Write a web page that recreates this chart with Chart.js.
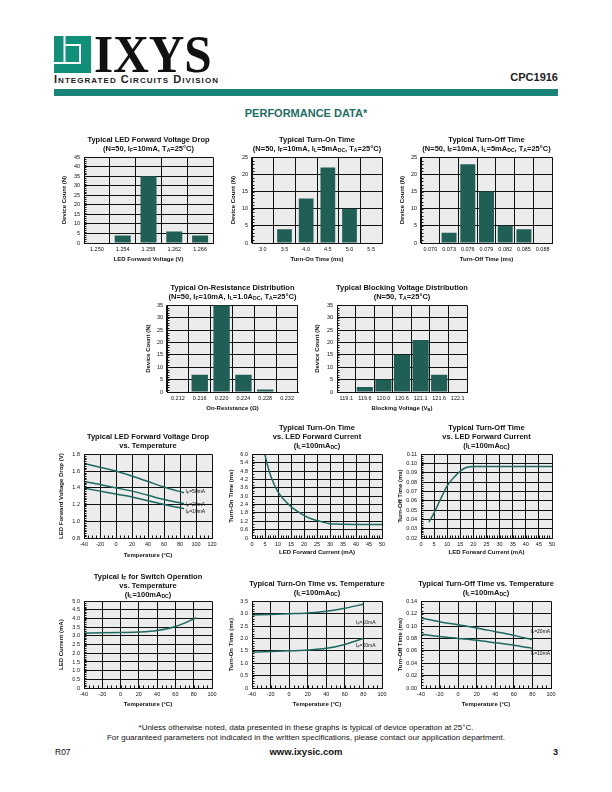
<!DOCTYPE html>
<html><head><meta charset="utf-8">
<script src="https://cdn.jsdelivr.net/npm/chart.js@4.4.1/dist/chart.umd.min.js"></script>
<style>
body{margin:0;width:612px;height:792px;position:relative;background:#fff;font-family:"Liberation Sans",Arial,sans-serif;overflow:hidden;color:#111}
.abs{position:absolute;white-space:nowrap}
.ttl{position:absolute;font-weight:bold;font-size:7.5px;line-height:9px;text-align:center;white-space:nowrap;color:#111;transform:translateX(-50%)}
sub{font-size:0.68em;vertical-align:-0.2em;line-height:0}
canvas{position:absolute}
</style></head><body>

<svg class="abs" style="left:54px;top:36px" width="37" height="37" viewBox="0 0 37 37">
 <rect x="0" y="0" width="37" height="37" fill="#119079"/>
 <rect x="9.5" y="0" width="2" height="27" fill="#fff"/>
 <rect x="0" y="26" width="27" height="2" fill="#fff"/>
 <rect x="25" y="8" width="2" height="20" fill="#fff"/>
 <rect x="11.5" y="8" width="15" height="2" fill="#fff"/>
</svg>
<div class="abs" style="left:94px;top:27.5px;font-family:'Liberation Serif','Times New Roman',serif;font-weight:bold;font-size:53px;line-height:53px;transform:scaleX(0.93);transform-origin:left top;color:#111">IXYS</div>
<div class="abs" style="left:54px;top:72.5px;font-weight:bold;font-size:11px;line-height:12px;letter-spacing:1.05px;font-variant:small-caps;color:#222">Integrated Circuits Division</div>
<div class="abs" style="right:54px;top:69.5px;font-weight:bold;font-size:11px;line-height:14px;color:#222">CPC1916</div>
<div class="abs" style="left:54px;top:89px;width:504px;height:7px;background:#1a8478"></div>
<div class="abs" style="left:0;width:612px;top:106px;text-align:center;font-weight:bold;font-size:11px;line-height:14px;color:#1f6e63">PERFORMANCE DATA*</div>

<canvas id="c1"></canvas><canvas id="c2"></canvas><canvas id="c3"></canvas>
<canvas id="c4"></canvas><canvas id="c5"></canvas>
<canvas id="c6"></canvas><canvas id="c7"></canvas><canvas id="c8"></canvas>
<canvas id="c9"></canvas><canvas id="c10"></canvas><canvas id="c11"></canvas>

<div class="abs" style="left:0;width:612px;top:723px;text-align:center;font-size:8px;line-height:10px;color:#111">*Unless otherwise noted, data presented in these graphs is typical of device operation at 25°C.</div>
<div class="abs" style="left:0;width:612px;top:733px;text-align:center;font-size:8px;line-height:10px;color:#111">For guaranteed parameters not indicated in the written specifications, please contact our application department.</div>
<div class="abs" style="left:55px;top:746px;font-size:8.5px;line-height:12px">R07</div>
<div class="abs" style="left:0;width:612px;top:746px;text-align:center;font-weight:bold;font-size:9.5px;line-height:12px">www.ixysic.com</div>
<div class="abs" style="right:54px;top:746px;font-weight:bold;font-size:9px;line-height:12px">3</div>

<script>
// ---------------- DATA ----------------
const C1_cats = ['1.250','1.254','1.258','1.262','1.266'];
const C1_counts = [0,4,35,6,4];
const C2_cats = ['3.0','3.5','4.0','4.5','5.0','5.5'];
const C2_counts = [0,4,13,22,10,0];
const C3_cats = ['0.070','0.073','0.076','0.079','0.082','0.085','0.088'];
const C3_counts = [0,3,23,15,5,4,0];
const C4_cats = ['0.212','0.216','0.220','0.224','0.228','0.232'];
const C4_counts = [0,7,35,7,1,0];
const C5_cats = ['119.1','119.6','120.0','120.6','121.1','121.6','122.1'];
const C5_counts = [0,2,5,15,21,7,0];

const C6_temp = [-40,-20,0,20,40,60,85];
const C6_if50 = [1.69,1.645,1.60,1.54,1.475,1.41,1.34];
const C6_if20 = [1.475,1.44,1.40,1.36,1.31,1.26,1.21];
const C6_if10 = [1.395,1.36,1.325,1.29,1.245,1.20,1.15];

const C7_if = [5,6,7.5,10,12.5,15,17.5,20,22.5,25,27.5,30,32.5,35,40,45,50];
const C7_ton = [5.95,5.2,4.3,3.3,2.7,2.25,1.9,1.62,1.4,1.25,1.12,1.03,1.0,0.98,0.97,0.97,0.97];

const C8_if = [3,5,7.5,10,12.5,15,17.5,20,25,30,35,40,45,50];
const C8_toff = [0.037,0.047,0.062,0.076,0.085,0.092,0.096,0.097,0.097,0.097,0.097,0.097,0.097,0.097];

const C9_temp = [-40,-20,0,20,40,60,83];
const C9_if = [3.17,3.18,3.2,3.23,3.32,3.55,4.05];

const C10_temp = [-40,-20,0,20,40,60,80];
const C10_if10 = [2.95,2.97,3.0,3.03,3.1,3.22,3.38];
const C10_if20 = [1.45,1.47,1.5,1.53,1.6,1.76,2.0];

const C11_temp = [-40,-20,0,20,40,60,80];
const C11_if20 = [0.113,0.107,0.102,0.097,0.091,0.085,0.078];
const C11_if10 = [0.087,0.083,0.080,0.077,0.073,0.069,0.064];

// in-plot curve labels (data coordinates)
const C6_labels = [{x:87,y:1.36,sub:'F',t:'=50mA'},{x:87,y:1.20,sub:'F',t:'=20mA'},{x:87,y:1.12,sub:'F',t:'=10mA'}];
const C10_labels = [{x:72,y:2.65,sub:'F',t:'=10mA'},{x:72,y:1.73,sub:'F',t:'=20mA'}];
const C11_labels = [{x:78,y:0.091,sub:'F',t:'=20mA'},{x:78,y:0.055,sub:'F',t:'=10mA'}];

// ---------------- LAYOUT ----------------
const boxes = {
 c1:{L:84,T:156,R:213,B:243,yt:65,xt:259,t0:139},
 c2:{L:252,T:156,R:382,B:243,yt:234,xt:259,t0:139},
 c3:{L:421,T:156,R:552,B:243,yt:403,xt:259,t0:139},
 c4:{L:167,T:304,R:298,B:392,yt:149,xt:408,t0:287},
 c5:{L:337,T:304,R:467,B:392,yt:318,xt:408,t0:287},
 c6:{L:84,T:453,R:212,B:538,yt:62,xt:555,t0:436},
 c7:{L:252,T:453,R:382,B:538,yt:232,xt:552,t0:427},
 c8:{L:421,T:453,R:552,B:538,yt:401,xt:552,t0:427},
 c9:{L:84,T:600,R:212,B:688,yt:62,xt:704,t0:576},
 c10:{L:252,T:600,R:382,B:688,yt:232,xt:704,t0:583},
 c11:{L:421,T:600,R:551,B:688,yt:401,xt:704,t0:583}
};
const DC='<sub>DC</sub>';
const titles = {
 c1:['Typical LED Forward Voltage Drop','(N=50, I<sub>F</sub>=10mA, T<sub>A</sub>=25°C)'],
 c2:['Typical Turn-On Time','(N=50, I<sub>F</sub>=10mA, I<sub>L</sub>=5mA'+DC+', T<sub>A</sub>=25°C)'],
 c3:['Typical Turn-Off Time','(N=50, I<sub>F</sub>=10mA, I<sub>L</sub>=5mA'+DC+', T<sub>A</sub>=25°C)'],
 c4:['Typical On-Resistance Distribution','(N=50, I<sub>F</sub>=10mA, I<sub>L</sub>=1.0A'+DC+', T<sub>A</sub>=25°C)'],
 c5:['Typical Blocking Voltage Distribution','(N=50, T<sub>A</sub>=25°C)'],
 c6:['Typical LED Forward Voltage Drop','vs. Temperature'],
 c7:['Typical Turn-On Time','vs. LED Forward Current','(I<sub>L</sub>=100mA'+DC+')'],
 c8:['Typical Turn-Off Time','vs. LED Forward Current','(I<sub>L</sub>=100mA'+DC+')'],
 c9:['Typical I<sub>F</sub> for Switch Operation','vs. Temperature','(I<sub>L</sub>=100mA'+DC+')'],
 c10:['Typical Turn-On Time vs. Temperature','(I<sub>L</sub>=100mA'+DC+')'],
 c11:['Typical Turn-Off Time vs. Temperature','(I<sub>L</sub>=100mA'+DC+')']
};
for (const k in titles){
  const b = boxes[k], d = document.createElement('div');
  d.className='ttl'; d.style.left=((b.L+b.R)/2)+'px'; d.style.top=(b.t0-4.5)+'px';
  d.innerHTML = titles[k].join('<br>');
  document.body.appendChild(d);
}
// x title with subscript for blocking voltage chart
(function(){const b=boxes.c5,d=document.createElement('div');d.className='ttl';d.style.fontSize='6px';d.style.lineHeight='8px';
 d.style.left=((b.L+b.R)/2)+'px';d.style.top=(b.xt-4)+'px';d.innerHTML='Blocking Voltage (V<sub>B</sub>)';document.body.appendChild(d);})();

// ---------------- PLUGINS ----------------
const FONT = "'Liberation Sans', Arial, sans-serif";
Chart.defaults.font.family = FONT;
Chart.defaults.font.size = 5.5;
Chart.defaults.color = '#111';

const bgPlugin = {id:'plotbg', beforeDraw(c){const a=c.chartArea,x=c.ctx;x.save();x.fillStyle='#ececec';x.fillRect(a.left,a.top,a.right-a.left,a.bottom-a.top);x.restore();}};
const minorPlugin = {id:'minor', afterDraw(c,args,o){
  if(!o || (!o.x && !o.y)) return;
  const ctx=c.ctx,a=c.chartArea; ctx.save(); ctx.strokeStyle='#111'; ctx.lineWidth=1; ctx.beginPath();
  if(o.y){const s=c.scales.y,n=Math.round((s.max-s.min)/o.y);for(let i=0;i<=n;i++){const p=Math.round(s.getPixelForValue(s.min+i*o.y))+0.5;ctx.moveTo(a.left,p);ctx.lineTo(a.left+2.5,p);}}
  if(o.x){const s=c.scales.x,n=Math.round((s.max-s.min)/o.x);for(let i=0;i<=n;i++){const p=Math.round(s.getPixelForValue(s.min+i*o.x))+0.5;ctx.moveTo(p,a.bottom);ctx.lineTo(p,a.bottom-2.5);}}
  ctx.stroke(); ctx.restore();
}};
const lblPlugin = {id:'lbl', afterDatasetsDraw(c,args,o){
  if(!o || !o.items) return;
  const ctx=c.ctx,xs=c.scales.x,ys=c.scales.y; ctx.save(); ctx.fillStyle='#111'; ctx.textBaseline='middle'; ctx.textAlign='left';
  for(const it of o.items){
    let px=xs.getPixelForValue(it.x), py=ys.getPixelForValue(it.y);
    ctx.font='5px '+FONT; ctx.fillText('I',px,py); px+=ctx.measureText('I').width;
    ctx.font='3.6px '+FONT; ctx.fillText(it.sub,px,py+1.5); px+=ctx.measureText(it.sub).width;
    ctx.font='5px '+FONT; ctx.fillText(it.t,px,py);
  }
  ctx.restore();
}};
Chart.register(bgPlugin, minorPlugin, lblPlugin);

// ---------------- BUILDER ----------------
function build(id, type, data, o){
  const b = boxes[id], cv = document.getElementById(id);
  const left = Math.round(b.yt - 3.6), top = b.T - 6;
  const W = b.R + 14 - left, H = Math.round(b.xt + 3.6) - top;
  cv.style.left = left+'px'; cv.style.top = top+'px'; cv.width = W; cv.height = H;
  const yw = b.L - left, xh = top + H - b.B;
  const gridX = {color:'#111', lineWidth:1, drawTicks:false};
  const xs = {type:o.xType, grid:gridX, border:{color:'#111',width:1},
    ticks:{padding:3, maxRotation:0, autoSkip:false, font:{size:5.5}, color:'#111'},
    title:{display:!!o.xTitle, text:o.xTitle||'', padding:0, font:{size:6, weight:'bold'}, color:'#111'},
    afterFit(s){s.height = xh;}};
  if (o.xType==='linear'){ xs.min=o.xMin; xs.max=o.xMax; xs.ticks.stepSize=o.xStep; xs.ticks.includeBounds=true; }
  const ys = {type:'linear', min:o.yMin, max:o.yMax, grid:{color:'#111', lineWidth:1, drawTicks:false}, border:{color:'#111',width:1},
    ticks:{padding:4, stepSize:o.yStep, autoSkip:false, font:{size:5.5}, color:'#111', callback:o.yFmt},
    title:{display:true, text:o.yTitle, padding:0, font:{size:6, weight:'bold'}, color:'#111'},
    afterFit(s){s.width = yw;}};
  return new Chart(cv, {type, data, options:{
    responsive:false, animation:false, devicePixelRatio:1,
    layout:{padding:{top:6,right:14,left:0,bottom:0}},
    plugins:{legend:{display:false}, tooltip:{enabled:false}, minor:o.minor||{}, lbl:o.lbl||{}},
    scales:{x:xs, y:ys}
  }});
}
const BAR='#205f55', LINE='#1c6a5e';
const intFmt = v => String(Math.round(v));
const fx = (n, zero) => v => (Math.abs(v)<1e-9 && zero!==undefined) ? zero : Number(v).toFixed(n);
function barData(cats, counts, bp){return {labels:cats, datasets:[{data:counts, backgroundColor:BAR, borderWidth:0, barPercentage:bp, categoryPercentage:1}]};}
function lineDs(xs, ys){return {data:xs.map((x,i)=>({x, y:ys[i]})), borderColor:LINE, borderWidth:1.5, pointRadius:0, cubicInterpolationMode:'monotone', fill:false};}

build('c1','bar',barData(C1_cats,C1_counts,0.62),{xType:'category',xTitle:'LED Forward Voltage (V)',yTitle:'Device Count (N)',yMin:0,yMax:45,yStep:5,yFmt:intFmt,minor:{y:1}});
build('c2','bar',barData(C2_cats,C2_counts,0.68),{xType:'category',xTitle:'Turn-On Time (ms)',yTitle:'Device Count (N)',yMin:0,yMax:25,yStep:5,yFmt:intFmt,minor:{y:1}});
build('c3','bar',barData(C3_cats,C3_counts,0.8),{xType:'category',xTitle:'Turn-Off Time (ms)',yTitle:'Device Count (N)',yMin:0,yMax:25,yStep:5,yFmt:intFmt,minor:{y:1}});
build('c4','bar',barData(C4_cats,C4_counts,0.75),{xType:'category',xTitle:'On-Resistance (Ω)',yTitle:'Device Count (N)',yMin:0,yMax:35,yStep:5,yFmt:intFmt,minor:{y:1}});
build('c5','bar',barData(C5_cats,C5_counts,0.87),{xType:'category',xTitle:'',yTitle:'Device Count (N)',yMin:0,yMax:35,yStep:5,yFmt:intFmt,minor:{y:1}});

build('c6','line',{datasets:[lineDs(C6_temp,C6_if50),lineDs(C6_temp,C6_if20),lineDs(C6_temp,C6_if10)]},
  {xType:'linear',xMin:-40,xMax:120,xStep:20,xTitle:'Temperature (°C)',yTitle:'LED Forward Voltage Drop (V)',yMin:0.8,yMax:1.8,yStep:0.2,yFmt:fx(1),minor:{y:0.02,x:5},lbl:{items:C6_labels}});
build('c7','line',{datasets:[lineDs(C7_if,C7_ton)]},
  {xType:'linear',xMin:0,xMax:50,xStep:5,xTitle:'LED Forward Current (mA)',yTitle:'Turn-On Time (ms)',yMin:0,yMax:6,yStep:0.6,yFmt:fx(1,'0'),minor:{y:0.2,x:1}});
build('c8','line',{datasets:[lineDs(C8_if,C8_toff)]},
  {xType:'linear',xMin:0,xMax:50,xStep:5,xTitle:'LED Forward Current (mA)',yTitle:'Turn-Off Time (ms)',yMin:0.02,yMax:0.11,yStep:0.01,yFmt:fx(2),minor:{y:0.002,x:1}});
build('c9','line',{datasets:[lineDs(C9_temp,C9_if)]},
  {xType:'linear',xMin:-40,xMax:100,xStep:20,xTitle:'Temperature (°C)',yTitle:'LED Current (mA)',yMin:0,yMax:5,yStep:0.5,yFmt:fx(1,'0'),minor:{y:0.1,x:5}});
build('c10','line',{datasets:[lineDs(C10_temp,C10_if10),lineDs(C10_temp,C10_if20)]},
  {xType:'linear',xMin:-40,xMax:100,xStep:20,xTitle:'Temperature (°C)',yTitle:'Turn-On Time (ms)',yMin:0,yMax:3.5,yStep:0.5,yFmt:fx(1,'0'),minor:{y:0.1,x:5},lbl:{items:C10_labels}});
build('c11','line',{datasets:[lineDs(C11_temp,C11_if20),lineDs(C11_temp,C11_if10)]},
  {xType:'linear',xMin:-40,xMax:100,xStep:20,xTitle:'Temperature (°C)',yTitle:'Turn-Off Time (ms)',yMin:0,yMax:0.14,yStep:0.02,yFmt:fx(2),minor:{y:0.005,x:5},lbl:{items:C11_labels}});
</script>
</body></html>
